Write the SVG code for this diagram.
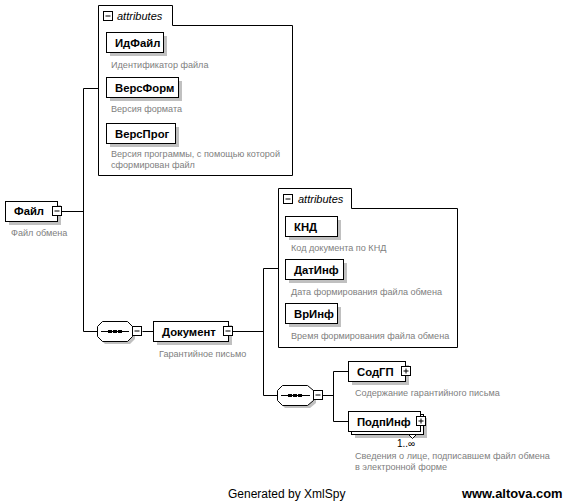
<svg xmlns="http://www.w3.org/2000/svg" width="568" height="503" viewBox="0 0 568 503">
<defs>
<style>
.box{fill:#fff;stroke:#000;stroke-width:1}
.sh{fill:#c0c0c0;stroke:none}
.lbl{font-family:"Liberation Sans",Arial,sans-serif;font-size:11.3px;font-weight:bold;fill:#000}
.desc{font-family:"Liberation Sans",Arial,sans-serif;font-size:9.1px;fill:#808080}
.att{font-family:"Liberation Sans",Arial,sans-serif;font-size:11px;font-style:italic;fill:#000}
.ln{stroke:#000;stroke-width:1;fill:none}
.ic{fill:#fff;stroke:#000;stroke-width:1}
.foot{font-family:"Liberation Sans",Arial,sans-serif;font-size:12px;fill:#000}
.web{font-size:12.9px;font-weight:bold}
</style>
</defs>
<rect width="568" height="503" fill="#fff"/>
<g id="connectors" class="ln">
<path d="M61.5,211.5H83.5M83.5,88.5V331.5M83.5,88.5H98.5M83.5,331.5H97.5"/>
<path d="M142.5,331.5H153.5M232.5,331.5H263.5M263.5,268.5V395.5M263.5,268.5H278.5M263.5,395.5H277.5"/>
<path d="M322.5,395.5H333.5M333.5,371.5V421.5M333.5,371.5H348.5M333.5,421.5H348.5"/>
</g>
<g id="attributes1">
<path class="box" d="M98.5,5.5H172.5V25.5H292.5V175.5H98.5Z"/>
<rect class="ic" x="103.5" y="11.5" width="9" height="9"/>
<path class="ln" d="M105.5,16H110.5"/>
<text class="att" x="117" y="20">attributes</text>
</g>
<g id="ИдФайл">
<rect class="sh" x="110" y="36" width="57" height="20"/>
<rect class="box" x="106.5" y="32.5" width="57" height="20"/>
<text class="lbl" x="115" y="47">ИдФайл</text>
<text class="desc" x="111" y="68">Идентификатор файла</text>
</g>
<g id="ВерсФорм">
<rect class="sh" x="110" y="81" width="72" height="20"/>
<rect class="box" x="106.5" y="77.5" width="72" height="20"/>
<text class="lbl" x="115" y="92">ВерсФорм</text>
<text class="desc" x="111" y="112">Версия формата</text>
</g>
<g id="ВерсПрог">
<rect class="sh" x="110" y="127" width="69" height="20"/>
<rect class="box" x="106.5" y="123.5" width="69" height="20"/>
<text class="lbl" x="115" y="138">ВерсПрог</text>
<text class="desc" x="111" y="157">Версия программы, с помощью которой</text>
<text class="desc" x="111" y="168">сформирован файл</text>
</g>
<g id="Файл">
<rect class="sh" x="9" y="205" width="52" height="20"/>
<rect class="box" x="5.5" y="201.5" width="52" height="20"/>
<rect class="ic" x="52.5" y="206.5" width="9" height="9"/>
<path class="ln" d="M54.5,211H59.5"/>
<text class="lbl" x="14" y="215">Файл</text>
<text class="desc" x="11" y="236">Файл обмена</text>
</g>
<g id="sequence1">
<polygon class="sh" points="105,324 130,324 135,329 135,339 130,344 105,344 100,339 100,329"/>
<polygon class="box" points="102.5,321.5 127.5,321.5 132.5,326.5 132.5,336.5 127.5,341.5 102.5,341.5 97.5,336.5 97.5,326.5"/>
<path class="ln" d="M101,331.5H129"/>
<rect x="108" y="330" width="4" height="3" fill="#000"/>
<rect x="113" y="330" width="4" height="3" fill="#000"/>
<rect x="118" y="330" width="4" height="3" fill="#000"/>
<rect class="ic" x="132.5" y="326.5" width="9" height="9"/>
<path class="ln" d="M134.5,331H139.5"/>
</g>
<g id="Документ">
<rect class="sh" x="157" y="325" width="75" height="20"/>
<rect class="box" x="153.5" y="321.5" width="75" height="20"/>
<rect class="ic" x="223.5" y="326.5" width="9" height="9"/>
<path class="ln" d="M225.5,331H230.5"/>
<text class="lbl" x="162" y="336">Документ</text>
<text class="desc" x="159" y="357">Гарантийное письмо</text>
</g>
<g id="attributes2">
<path class="box" d="M278.5,188.5H351.5V208.5H457.5V347.5H278.5Z"/>
<rect class="ic" x="283.5" y="194.5" width="9" height="9"/>
<path class="ln" d="M285.5,199H290.5"/>
<text class="att" x="298" y="203">attributes</text>
</g>
<g id="КНД">
<rect class="sh" x="289" y="220" width="52" height="20"/>
<rect class="box" x="285.5" y="216.5" width="52" height="20"/>
<text class="lbl" x="294" y="231">КНД</text>
<text class="desc" x="291" y="251">Код документа по КНД</text>
</g>
<g id="ДатИнф">
<rect class="sh" x="289" y="263" width="58" height="20"/>
<rect class="box" x="285.5" y="259.5" width="58" height="20"/>
<text class="lbl" x="294" y="274">ДатИнф</text>
<text class="desc" x="291" y="295">Дата формирования файла обмена</text>
</g>
<g id="ВрИнф">
<rect class="sh" x="289" y="307" width="52" height="20"/>
<rect class="box" x="285.5" y="303.5" width="52" height="20"/>
<text class="lbl" x="294" y="318">ВрИнф</text>
<text class="desc" x="291" y="339">Время формирования файла обмена</text>
</g>
<g id="sequence2">
<polygon class="sh" points="285,388 310,388 316,393 316,403 310,408 285,408 280,403 280,393"/>
<polygon class="box" points="282.5,385.5 307.5,385.5 313.5,390.5 313.5,400.5 307.5,405.5 282.5,405.5 277.5,400.5 277.5,390.5"/>
<path class="ln" d="M281,395.5H310"/>
<rect x="288" y="394" width="4" height="3" fill="#000"/>
<rect x="293" y="394" width="4" height="3" fill="#000"/>
<rect x="298" y="394" width="4" height="3" fill="#000"/>
<rect class="ic" x="313.5" y="390.5" width="9" height="9"/>
<path class="ln" d="M315.5,395H320.5"/>
</g>
<g id="СодГП">
<rect class="sh" x="352" y="365" width="57" height="20"/>
<rect class="box" x="348.5" y="361.5" width="57" height="20"/>
<rect class="ic" x="401.5" y="366.5" width="9" height="9"/>
<path class="ln" d="M403.5,371H408.5M406,368.5V373.5"/>
<text class="lbl" x="357" y="376">СодГП</text>
<text class="desc" x="355" y="396">Содержание гарантийного письма</text>
</g>
<g id="ПодпИнф">
<rect class="sh" x="355" y="418" width="72" height="20"/>
<rect class="box" x="351.5" y="414.5" width="72" height="20"/>
<rect class="box" x="348.5" y="411.5" width="72" height="20"/>
<rect class="ic" x="416.5" y="416.5" width="9" height="9"/>
<path class="ln" d="M418.5,421H423.5M421,418.5V423.5"/>
<polygon class="box" points="408.5,434.5 416.5,434.5 412.5,438.5"/>
<text class="lbl" x="357" y="426">ПодпИнф</text>
<text x="397" y="447" font-family="Liberation Sans, Arial, sans-serif" font-size="10" fill="#000">1..∞</text>
<text class="desc" x="355" y="459">Сведения о лице, подписавшем файл обмена</text>
<text class="desc" x="355" y="470">в электронной форме</text>
</g>
<g id="footer">
<text class="foot" x="228" y="498">Generated by XmlSpy</text>
<text class="foot web" x="462" y="498">www.altova.com</text>
</g>
</svg>
